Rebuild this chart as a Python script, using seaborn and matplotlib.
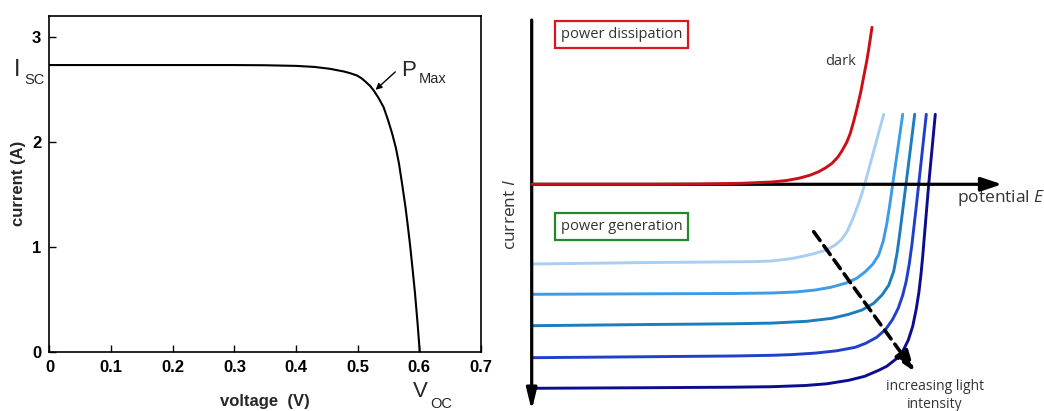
import matplotlib
matplotlib.use("Agg")
import matplotlib.pyplot as plt
import seaborn as sns

sns.set_theme(style="white")
plt.rcParams["font.family"] = ["Liberation Sans", "DejaVu Sans"]
plt.rcParams["mathtext.fontset"] = "custom"
plt.rcParams["mathtext.rm"] = "Open Sans"
plt.rcParams["mathtext.it"] = "Open Sans:italic"

# ---------------- left: measured I-V curve of a cell ----------------
voltage = [0.0, 0.10, 0.20, 0.30, 0.35, 0.40, 0.43, 0.4553, 0.478, 0.488,
           0.499, 0.506, 0.513, 0.520, 0.526, 0.534, 0.542, 0.549, 0.556,
           0.562, 0.567, 0.572, 0.5775, 0.5815, 0.5853, 0.589, 0.593,
           0.597, 0.6007]
current = [2.73, 2.73, 2.73, 2.73, 2.728, 2.722, 2.712, 2.694, 2.668, 2.652,
           2.63, 2.605, 2.57, 2.532, 2.488, 2.415, 2.329, 2.21, 2.076,
           1.94, 1.791, 1.60, 1.378, 1.19, 0.998, 0.79, 0.555,
           0.28, 0.0]
volt_ticks = [0, 0.1, 0.2, 0.3, 0.4, 0.5, 0.6, 0.7]
volt_labels = ["0", "0.1", "0.2", "0.3", "0.4", "0.5", "0.6", "0.7"]
curr_ticks = [0, 1, 2, 3]
curr_labels = ["0", "1", "2", "3"]

# ---------------- right: schematic dark / illuminated curves ----------------
dark_E = [0.0, 1.20, 1.683, 2.10, 2.403, 2.55, 2.67, 2.78, 2.87, 2.94, 3.003,
          3.06, 3.103, 3.15, 3.186, 3.22, 3.253, 3.29, 3.32, 3.35, 3.37, 3.403]
dark_I = [0.0, 0.0, 0.003, 0.01, 0.023, 0.038, 0.06, 0.09, 0.126, 0.165, 0.21,
          0.27, 0.335, 0.42, 0.51, 0.63, 0.76, 0.92, 1.076, 1.23, 1.35, 1.57]

light_E = [
    [0.0, 1.183, 2.2, 2.403, 2.603, 2.72, 2.836, 2.95, 3.036, 3.10, 3.153,
     3.213, 3.263, 3.30, 3.33, 3.423, 3.52],
    [0.0, 1.183, 2.0, 2.403, 2.65, 2.836, 2.99, 3.136, 3.25, 3.336, 3.41,
     3.47, 3.515, 3.55, 3.58, 3.61, 3.71],
    [0.0, 1.183, 2.0, 2.403, 2.75, 3.003, 3.17, 3.303, 3.42, 3.503, 3.57,
     3.62, 3.655, 3.685, 3.715, 3.743, 3.83],
    [0.0, 1.183, 2.0, 2.403, 2.6, 2.836, 3.05, 3.236, 3.34, 3.45, 3.54,
     3.61, 3.665, 3.71, 3.745, 3.775, 3.80, 3.823, 3.847, 3.87, 3.946],
    [0.0, 1.183, 2.0, 2.403, 2.736, 2.95, 3.17, 3.33, 3.47, 3.55, 3.64,
     3.71, 3.765, 3.81, 3.845, 3.872, 3.893, 3.91, 3.925, 3.94, 3.955,
     3.97, 4.036],
]
light_I = [
    [-0.797, -0.782, -0.774, -0.767, -0.742, -0.718, -0.69, -0.655, -0.607, -0.55, -0.474,
     -0.34, -0.207, -0.10, 0.0, 0.343, 0.70],
    [-1.10, -1.095, -1.092, -1.087, -1.076, -1.057, -1.03, -0.99, -0.94, -0.874, -0.80,
     -0.707, -0.57, -0.40, -0.21, 0.0, 0.70],
    [-1.414, -1.402, -1.395, -1.388, -1.37, -1.34, -1.30, -1.257, -1.19, -1.107, -1.01,
     -0.87, -0.68, -0.46, -0.22, 0.0, 0.70],
    [-1.734, -1.724, -1.717, -1.71, -1.703, -1.688, -1.665, -1.63, -1.59, -1.53, -1.45,
     -1.35, -1.24, -1.11, -0.97, -0.80, -0.62, -0.42, -0.21, 0.0, 0.70],
    [-2.04, -2.034, -2.029, -2.024, -2.012, -1.995, -1.96, -1.92, -1.86, -1.82, -1.75,
     -1.67, -1.56, -1.42, -1.25, -1.08, -0.90, -0.72, -0.54, -0.36, -0.18,
     0.0, 0.70],
]
light_colors = ["#a6cff3", "#3d9ce8", "#1b7dbe", "#2040cc", "#0c0c8e"]
dark_color = "#c8101a"

fig = plt.figure(figsize=(10.44, 4.11), dpi=100)

# ----- left panel -----
ax1 = fig.add_axes([0.0474, 0.1443, 0.4133, 0.8175])
sns.lineplot(x=voltage, y=current, color="black", lw=1.5, sort=False, ax=ax1)
ax1.set_xlim(0, 0.7)
ax1.set_ylim(0, 3.2)
ax1.set_xticks(volt_ticks)
ax1.set_xticklabels(volt_labels, fontsize=12, fontweight="bold")
ax1.set_yticks(curr_ticks)
ax1.set_yticklabels(curr_labels, fontsize=12, fontweight="bold")
ax1.tick_params(direction="in", length=5, width=1, bottom=True, left=True,
                top=False, right=False, colors="black", pad=6)
for sp in ax1.spines.values():
    sp.set_color("black")
    sp.set_linewidth(1.2)
ax1.set_xlabel("voltage  (V)", fontsize=12, fontweight="bold", labelpad=14)
ax1.set_ylabel("current (A)", fontsize=12, fontweight="bold", labelpad=4)

ax1.text(-0.057, 2.63, "I", fontsize=17, va="baseline", clip_on=False)
ax1.text(-0.041, 2.553, "SC", fontsize=10.5, va="baseline", clip_on=False)
ax1.text(0.570, 2.63, "P", fontsize=16, va="baseline")
ax1.text(0.599, 2.556, "Max", fontsize=10.5, va="baseline")
ax1.annotate("", xy=(0.529, 2.494), xytext=(0.561, 2.665),
             arrowprops=dict(arrowstyle="-|>", color="black", lw=1,
                             mutation_scale=9, shrinkA=0, shrinkB=0))
ax1.text(0.589, -0.433, "V", fontsize=16, va="baseline", clip_on=False)
ax1.text(0.617, -0.535, "OC", fontsize=10.5, va="baseline", clip_on=False)

# ----- right panel -----
ax2 = fig.add_axes([500 / 1044, 0, 544 / 1044, 1])
ax2.set_xlim(-0.317, 5.123)
ax2.set_ylim(-2.267, 1.843)
ax2.axis("off")

for E, I, c in zip(light_E, light_I, light_colors):
    sns.lineplot(x=E, y=I, color=c, lw=2.1, sort=False, ax=ax2, zorder=2)

# axes arrows
ax2.annotate("", xy=(4.703, 0), xytext=(0, 0),
             arrowprops=dict(arrowstyle="-|>,head_length=0.9,head_width=0.3",
                             color="black", lw=2.3, mutation_scale=14,
                             shrinkA=0, shrinkB=0), zorder=3)
ax2.annotate("", xy=(0, -2.26), xytext=(0, 1.643),
             arrowprops=dict(arrowstyle="-|>,head_length=0.9,head_width=0.22",
                             color="black", lw=2.3, mutation_scale=14,
                             shrinkA=0, shrinkB=0), zorder=3)

sns.lineplot(x=dark_E, y=dark_I, color=dark_color, lw=2.1, sort=False, ax=ax2, zorder=4)

# dashed arrow
ax2.annotate("", xy=(3.83, -1.874), xytext=(2.82, -0.474),
             arrowprops=dict(arrowstyle="-|>,head_length=0.9,head_width=0.32",
                             color="black", lw=2.6, linestyle=(0, (3, 1.8)),
                             mutation_scale=14, shrinkA=0, shrinkB=0), zorder=5)

txt_kw = dict(family=["Open Sans", "DejaVu Sans"], color="#333333")
ax2.text(0.901, 1.501, "power dissipation", fontsize=10.5, ha="center", va="center",
         bbox=dict(boxstyle="square,pad=0.4", fc="white", ec="#e0141e", lw=1.6), **txt_kw)
ax2.text(0.901, -0.419, "power generation", fontsize=10.5, ha="center", va="center",
         bbox=dict(boxstyle="square,pad=0.4", fc="white", ec="#1e8a2a", lw=1.6), **txt_kw)
ax2.text(2.93, 1.226, "dark", fontsize=10.5, ha="left", va="center", **txt_kw)
ax2.text(4.25, -0.14, "potential $E$", fontsize=12.5, ha="left", va="center", **txt_kw)
ax2.text(-0.205, -0.30, "current $I$", fontsize=12.5, ha="center", va="center",
         rotation=90, **txt_kw)
ax2.text(4.03, -2.11, "increasing light\nintensity", fontsize=10, ha="center",
         va="center", linespacing=1.25, **txt_kw)

fig.savefig("out.png", dpi=100)
